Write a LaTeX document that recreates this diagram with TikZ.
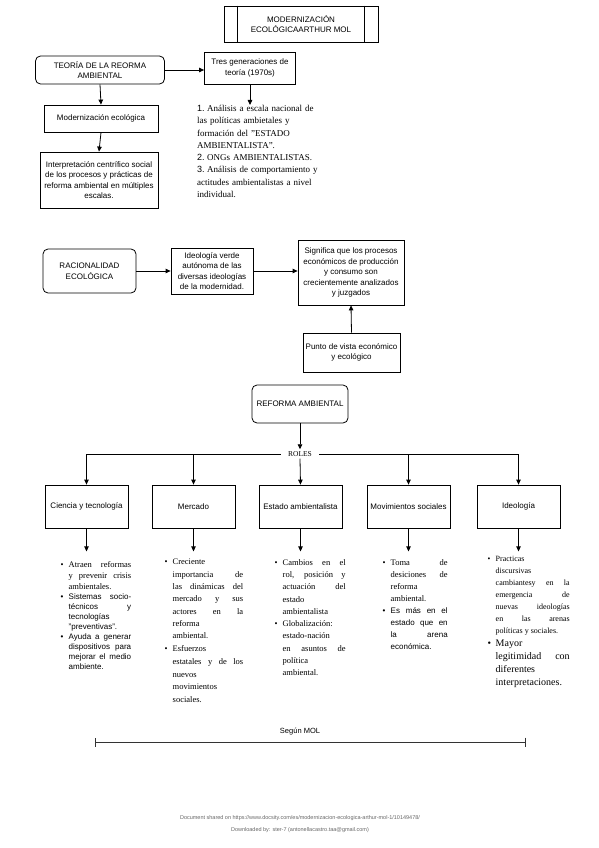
\documentclass[tikz,border=0pt]{standalone}
\usepackage{fontspec}
\setmainfont{Liberation Serif}
\setsansfont{Liberation Sans}
\usetikzlibrary{arrows.meta}

% one bullet item of a list: [font]{text}
\newlength{\sangria}
\setlength{\sangria}{8pt}
\newcommand{\vineta}[2][]{{#1\noindent\hangindent=\sangria\hangafter=1\makebox[\sangria][l]{\textbullet}#2\par}}
% one numbered item
\newcommand{\numitem}[2]{{\noindent\hangindent=10pt\hangafter=1\makebox[10pt][l]{\sffamily #1}#2\par}}

\tikzset{
    caja/.style={draw, line width=0.8pt, align=center, inner sep=2pt,
        font=\sffamily\fontsize{8}{10.5}\selectfont},
    cajar/.style={caja, rounded corners=5pt},
    flecha/.style={-{Triangle[length=5pt,width=4.5pt]}, line width=0.8pt},
    lista/.style={anchor=north west, inner sep=0pt, align=justify},
}

\begin{document}
\begin{tikzpicture}[x=1pt, y=-1pt]
    \useasboundingbox (0,0) rectangle (599,848);

    % Title
    \node[caja, minimum width=154, minimum height=36] (titulo) at (301,24)
        {MODERNIZACIÓN\\ECOLÓGICAARTHUR MOL};
    \draw[line width=0.8pt] ([xshift=14]titulo.north west) -- ([xshift=14]titulo.south west);
    \draw[line width=0.8pt] ([xshift=-14]titulo.north east) -- ([xshift=-14]titulo.south east);

    % Teoria de la reforma ambiental
    \node[cajar, minimum width=129, minimum height=28] (teoria) at (100,70)
        {TEORÍA DE LA REORMA\\AMBIENTAL};
    \node[caja, minimum width=91, minimum height=32] (tres) at (250,68)
        {Tres generaciones de\\teoría (1970s)};
    \node[caja, minimum width=114, minimum height=27] (moder) at (101,118.5)
        {Modernización ecológica};
    \node[caja, minimum width=118, minimum height=56] (interp) at (99,180)
        {Interpretación centrífico social\\de los procesos y prácticas de\\reforma ambiental en múltiples\\escalas.};
    \draw[flecha] (teoria.east) -- (teoria.east -| tres.west);
    \draw[flecha] (teoria.south) -- (moder.north);
    \draw[flecha] (moder.south) -- (interp.north);

    % The three generations
    \node[lista, align=left, text width=135, font=\fontsize{9}{12.3}\selectfont] (gener) at (197,105)
        {\numitem{1.}{Análisis a escala nacional de\\las políticas ambietales y\\formación del "ESTADO\\AMBIENTALISTA".}
         \numitem{2.}{ONGs AMBIENTALISTAS.}
         \numitem{3.}{Análisis de comportamiento y\\actitudes ambientalistas a nivel\\individual.}};
    \draw[flecha] (tres.south) -- (tres.south |- gener.north);

    % Racionalidad ecologica
    \node[cajar, minimum width=93, minimum height=44] (racio) at (89.5,271)
        {RACIONALIDAD\\ECOLÓGICA};
    \node[caja, minimum width=82, minimum height=46, inner sep=1pt] (ideo) at (212,271)
        {Ideología verde\\autónoma de las\\diversas ideologías\\de la modernidad.};
    \node[caja, minimum width=106, minimum height=65] (signif) at (351,272.5)
        {Significa que los procesos\\económicos de producción\\y consumo son\\crecientemente analizados\\y juzgados};
    \node[caja, minimum width=97, minimum height=39] (punto) at (351.5,352.5)
        {Punto de vista económico\\y ecológico};
    \draw[flecha] (racio.east) -- (ideo.west);
    \draw[flecha] (ideo.east) -- (ideo.east -| signif.west);
    \draw[flecha] (punto.north) -- (signif.south);

    % Reforma ambiental and its roles
    \node[cajar, minimum width=96, minimum height=38] (reforma) at (300,404) {REFORMA AMBIENTAL};
    \node[font=\fontsize{7.5}{9}\selectfont, inner xsep=7pt, inner ysep=2pt] (roles) at (300,454) {ROLES};
    \draw[flecha] (reforma.south) -- (roles.north);

    \foreach \nombre/\x/\texto in {ciencia/86.5/Ciencia y tecnología, mercado/193.5/Mercado,
        estado/300.5/Estado ambientalista, movim/408.5/Movimientos sociales, ideol/518.5/Ideología}
    {
        \node[caja, minimum width=83, minimum height=43] (\nombre) at (\x,506.5) {\texto};
        \coordinate (f\nombre) at ([yshift=-23]\nombre.south);
        \draw[flecha] (\nombre.south) -- (f\nombre);
    }
    \draw[line width=0.8pt] (ciencia.north |- roles) -- (roles.west);
    \draw[line width=0.8pt] (roles.east) -- (ideol.north |- roles);
    \foreach \nombre in {ciencia, mercado, movim, ideol}
        \draw[flecha] (\nombre.north |- roles) -- (\nombre.north);
    \draw[flecha] (roles.south) -- (estado.north);

    % Lists under the roles
    \node[lista, text width=70.5] (lciencia) at (60.5,561)
        {\vineta[\fontsize{8.5}{11}\selectfont]{Atraen reformas\linebreak y prevenir crisis\linebreak ambientales.}
         \vineta[\sffamily\fontsize{8}{10}\selectfont]{Sistemas socio-\linebreak técnicos y\linebreak tecnologías\linebreak "preventivas".}
         \vineta[\sffamily\fontsize{8}{10}\selectfont]{Ayuda a generar\linebreak dispositivos para\linebreak mejorar el medio\linebreak ambiente.}};
    \node[lista, text width=78.5] (lmercado) at (164.5,559)
        {\vineta[\fontsize{8.5}{12.3}\selectfont]{Creciente\linebreak importancia de\linebreak las dinámicas del\linebreak mercado y sus\linebreak actores en la\linebreak reforma\linebreak ambiental.}
         \vineta[\fontsize{8.5}{12.8}\selectfont]{Esfuerzos\linebreak estatales y de los\linebreak nuevos\linebreak movimientos\linebreak sociales.}};
    \node[lista, text width=71] (lestado) at (274.5,559)
        {\vineta[\fontsize{8.5}{12.3}\selectfont]{Cambios en el\linebreak rol, posición y\linebreak actuación del\linebreak estado\linebreak ambientalista}
         \vineta[\fontsize{8.5}{12.3}\selectfont]{Globalización:\linebreak estado-nación\linebreak en asuntos de\linebreak política\linebreak ambiental.}};
    \node[lista, text width=65] (lmovim) at (382.5,559)
        {\vineta[\fontsize{8.5}{12}\selectfont]{Toma de\linebreak desiciones de\linebreak reforma\linebreak ambiental.}
         \vineta[\sffamily\fontsize{8}{12}\selectfont]{Es más en el\linebreak estado que en\linebreak la arena\linebreak económica.}};
    \node[lista, text width=82] (lideol) at (487.5,556)
        {\vineta[\fontsize{8}{12}\selectfont]{Practicas\linebreak discursivas\linebreak cambiantesy en la\linebreak emergencia de\linebreak nuevas ideologías\linebreak en las arenas\linebreak políticas y sociales.}
         \vineta[\fontsize{10}{13}\selectfont]{Mayor\linebreak legitimidad con\linebreak diferentes\linebreak interpretaciones.}};

    % Segun Mol
    \coordinate (mol1) at (95,742);
    \coordinate (mol2) at (526,742);
    \draw[{Bar[width=9pt]}-{Bar[width=9pt]}, line width=0.8pt, black!80] (mol1) -- (mol2);
    \node[font=\sffamily\fontsize{7.5}{9}\selectfont] (segun) at (300,732) {Según MOL};

    % Footer
    \node[font=\sffamily\fontsize{5.5}{7}\selectfont, text=black!60] (doc) at (300,818)
        {Document shared on https://www.docsity.com/es/modernizacion-ecologica-arthur-mol-1/10149478/};
    \node[font=\sffamily\fontsize{5.5}{7}\selectfont, text=black!60] (down) at (300,830)
        {Downloaded by: ster-7 (antonellacastro.taa@gmail.com)};
\end{tikzpicture}
\end{document}
